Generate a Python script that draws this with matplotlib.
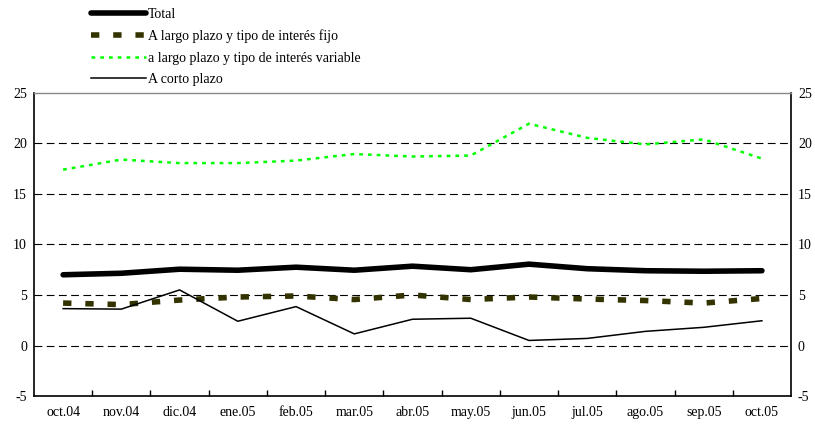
import matplotlib
matplotlib.use("Agg")
import matplotlib.pyplot as plt
import numpy as np

months = ["oct.04", "nov.04", "dic.04", "ene.05", "feb.05", "mar.05", "abr.05",
          "may.05", "jun.05", "jul.05", "ago.05", "sep.05", "oct.05"]
total = [7.0, 7.15, 7.55, 7.45, 7.75, 7.45, 7.85, 7.5, 8.05, 7.6, 7.4, 7.35, 7.4]
fijo = [4.2, 4.05, 4.5, 4.8, 4.9, 4.55, 5.0, 4.55, 4.8, 4.6, 4.45, 4.2, 4.65]
variable = [17.4, 18.4, 18.05, 18.05, 18.3, 18.95, 18.7, 18.8, 21.95, 20.55, 19.9, 20.4, 18.5]
corto = [3.65, 3.6, 5.5, 2.4, 3.85, 1.15, 2.6, 2.7, 0.5, 0.7, 1.4, 1.8, 2.45]
yticks = [-5, 0, 5, 10, 15, 20, 25]

plt.rcParams["font.family"] = ["Liberation Serif", "DejaVu Serif"]
plt.rcParams["font.size"] = 10
plt.rcParams["axes.unicode_minus"] = False

fig = plt.figure(figsize=(8.15, 4.3), dpi=100)
ax = fig.add_axes([0.0417, 0.079, 0.9289, 0.705])
x = np.arange(len(months))

for g in [0, 5, 10, 15, 20]:
    ax.axhline(g, color="black", lw=0.8, dashes=(7, 4), zorder=1)

ax.plot(x, total, color="black", lw=4, solid_capstyle="round", label="Total", zorder=4)
ax.plot(x, fijo, color="#333300", lw=4, linestyle=(0, (1.5, 2.5)),
        label="A largo plazo y tipo de interés fijo", zorder=3)
ax.plot(x, variable, color="#00ff00", lw=1.8, linestyle=(0, (1.5, 2)),
        label="a largo plazo y tipo de interés variable", zorder=3)
ax.plot(x, corto, color="black", lw=1.1, label="A corto plazo", zorder=3)

ax.set_xlim(-0.5, len(months) - 0.5)
ax.set_ylim(-5, 25)
ax.set_yticks(yticks)
ax.tick_params(axis="y", length=0, labelright=True, pad=5)
ax.set_xticks(x)
ax.set_xticklabels(months)
ax.set_xticks(np.arange(len(months) - 1) + 0.5, minor=True)
ax.tick_params(axis="x", which="major", length=0, pad=7)
ax.tick_params(axis="x", which="minor", direction="in", length=4, width=1)

for s in ["left", "right", "bottom"]:
    ax.spines[s].set_color("black")
    ax.spines[s].set_linewidth(1.2)
ax.spines["top"].set_color("#888888")
ax.spines["top"].set_linewidth(1.0)

fig.legend(loc="upper left", bbox_to_anchor=(0.096, 1.01), frameon=False,
           handlelength=4.0, handletextpad=0.1, labelspacing=0.6, fontsize=10)

fig.savefig("out.png", dpi=100)
